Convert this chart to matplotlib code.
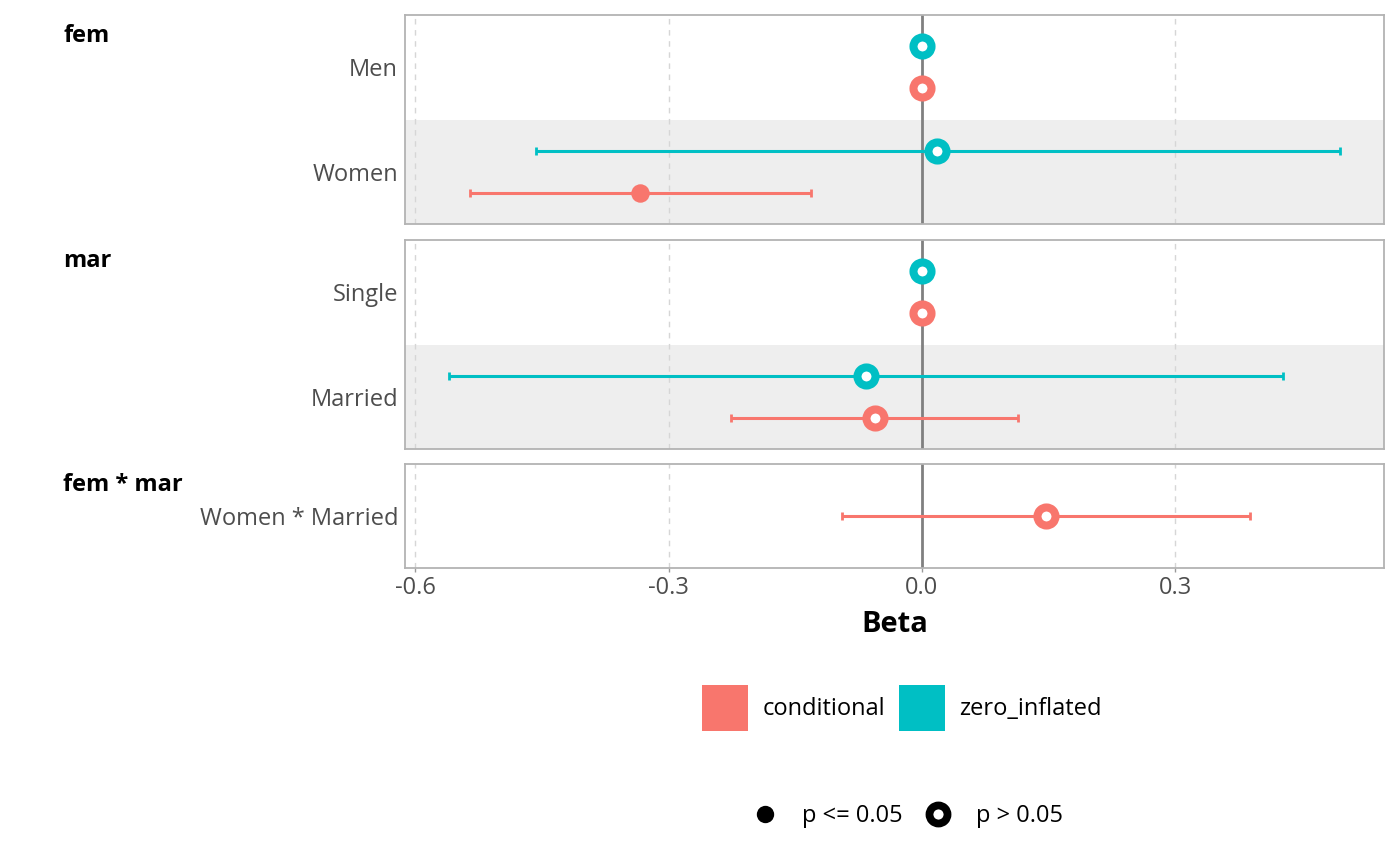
import numpy as np
import matplotlib
matplotlib.use('Agg')
import matplotlib.pyplot as plt
from matplotlib.patches import Patch
from matplotlib.lines import Line2D

plt.rcParams['font.family'] = ['Open Sans', 'DejaVu Sans']

nan = np.nan
facets = ['fem', 'mar', 'fem * mar']
facet_terms = [['Men', 'Women'], ['Single', 'Married'], ['Women * Married']]

cond_est = [[0.0, -0.334], [0.0, -0.056], [0.147]]
cond_lo = [[nan, -0.535], [nan, -0.226], [-0.095]]
cond_hi = [[nan, -0.131], [nan, 0.114], [0.388]]
cond_sig = [[False, True], [False, False], [False]]

zi_est = [[0.0, 0.018], [0.0, -0.066], [nan]]
zi_lo = [[nan, -0.457], [nan, -0.560], [nan]]
zi_hi = [[nan, 0.495], [nan, 0.428], [nan]]
zi_sig = [[False, False], [False, False], [False]]

components = ['conditional', 'zero_inflated']
comp_colors = ['#F8766D', '#00BFC4']
xticks = [-0.6, -0.3, 0.0, 0.3]
xticklabels = ['-0.6', '-0.3', '0.0', '0.3']
xlim = (-0.612, 0.547)

W, H = 1400, 866
fig = plt.figure(figsize=(14, 8.66), dpi=100)

# panel pixel boxes (top, bottom)
panels_px = [(15, 224), (240, 449), (464, 568)]
left_px, right_px = 405, 1384
label_col = '#4d4d4d'
border_col = '#b3b3b3'
FS = 17

for i, (top, bot) in enumerate(panels_px):
    ax = fig.add_axes([left_px / W, 1 - bot / H, (right_px - left_px) / W, (bot - top) / H])
    terms = facet_terms[i]
    n = len(terms)
    ax.set_xlim(*xlim)
    ax.set_ylim(n - 0.5, -0.5)
    for j in range(n):
        if j % 2 == 1:
            ax.axhspan(j - 0.5, j + 0.5, color='#eeeeee', zorder=0, lw=0)
    for xt in xticks:
        if xt != 0:
            ax.axvline(xt, color='#d6d6d6', lw=1.0, ls=(0, (4, 4)), zorder=0.5)
    ax.axvline(0, color='#808080', lw=2.0, zorder=1.5)

    for j in range(n):
        comps = []
        if not np.isnan(cond_est[i][j]):
            comps.append((0, cond_est[i][j], cond_lo[i][j], cond_hi[i][j], cond_sig[i][j]))
        if not np.isnan(zi_est[i][j]):
            comps.append((1, zi_est[i][j], zi_lo[i][j], zi_hi[i][j], zi_sig[i][j]))
        dodge = len(comps) > 1
        for (c, est, lo, hi, sig) in comps:
            y = j + ((0.2 if c == 0 else -0.2) if dodge else 0.0)
            col = comp_colors[c]
            if not np.isnan(lo):
                ax.errorbar([est], [y], xerr=[[est - lo], [hi - est]], fmt='none',
                            ecolor=col, elinewidth=2.2, capsize=2.6, capthick=2.0, zorder=2)
            if sig:
                ax.plot([est], [y], 'o', ms=13.3, mfc=col, mec=col, mew=0, zorder=3)
            else:
                ax.plot([est], [y], 'o', ms=13.0, mfc='white', mec=col, mew=5.8, zorder=3)

    ax.set_yticks(range(n))
    ax.set_yticklabels(terms)
    ax.tick_params(axis='y', length=0, pad=5, labelsize=FS, labelcolor=label_col)
    ax.set_xticks(xticks)
    if i == len(panels_px) - 1:
        ax.set_xticklabels(xticklabels)
        ax.tick_params(axis='x', length=3, width=1, color='#999999', pad=3,
                       labelsize=FS, labelcolor=label_col)
        ax.set_xlabel('Beta', fontsize=21, fontweight='bold', labelpad=7)
    else:
        ax.tick_params(axis='x', length=0, labelbottom=False)
    for sp in ax.spines.values():
        sp.set_color(border_col)
        sp.set_linewidth(1.3)
        sp.set_zorder(4)
    fig.text(63 / W, 1 - (top + 21) / H, facets[i], fontsize=FS, fontweight='bold',
             ha='left', va='center')

# colour legend
color_handles = [Patch(facecolor=comp_colors[k], edgecolor='none', label=components[k]) for k in range(2)]
fig.legend(handles=color_handles, loc='center', bbox_to_anchor=(902 / W, 1 - 708 / H),
           ncol=2, frameon=False, fontsize=FS, handlelength=1.95, handleheight=2.6,
           handletextpad=0.6, columnspacing=0.6, borderpad=0)

shape_handles = [
    Line2D([], [], ls='none', marker='o', ms=12.5, mfc='black', mec='black', mew=0, label='p <= 0.05'),
    Line2D([], [], ls='none', marker='o', ms=13.0, mfc='white', mec='black', mew=5.6, label='p > 0.05'),
]
fig.legend(handles=shape_handles, loc='center', bbox_to_anchor=(905 / W, 1 - 816 / H),
           ncol=2, frameon=False, fontsize=FS, handlelength=1.5,
           handletextpad=0.85, columnspacing=0.75, borderpad=0)

fig.savefig('out.png', dpi=100, facecolor='white')
